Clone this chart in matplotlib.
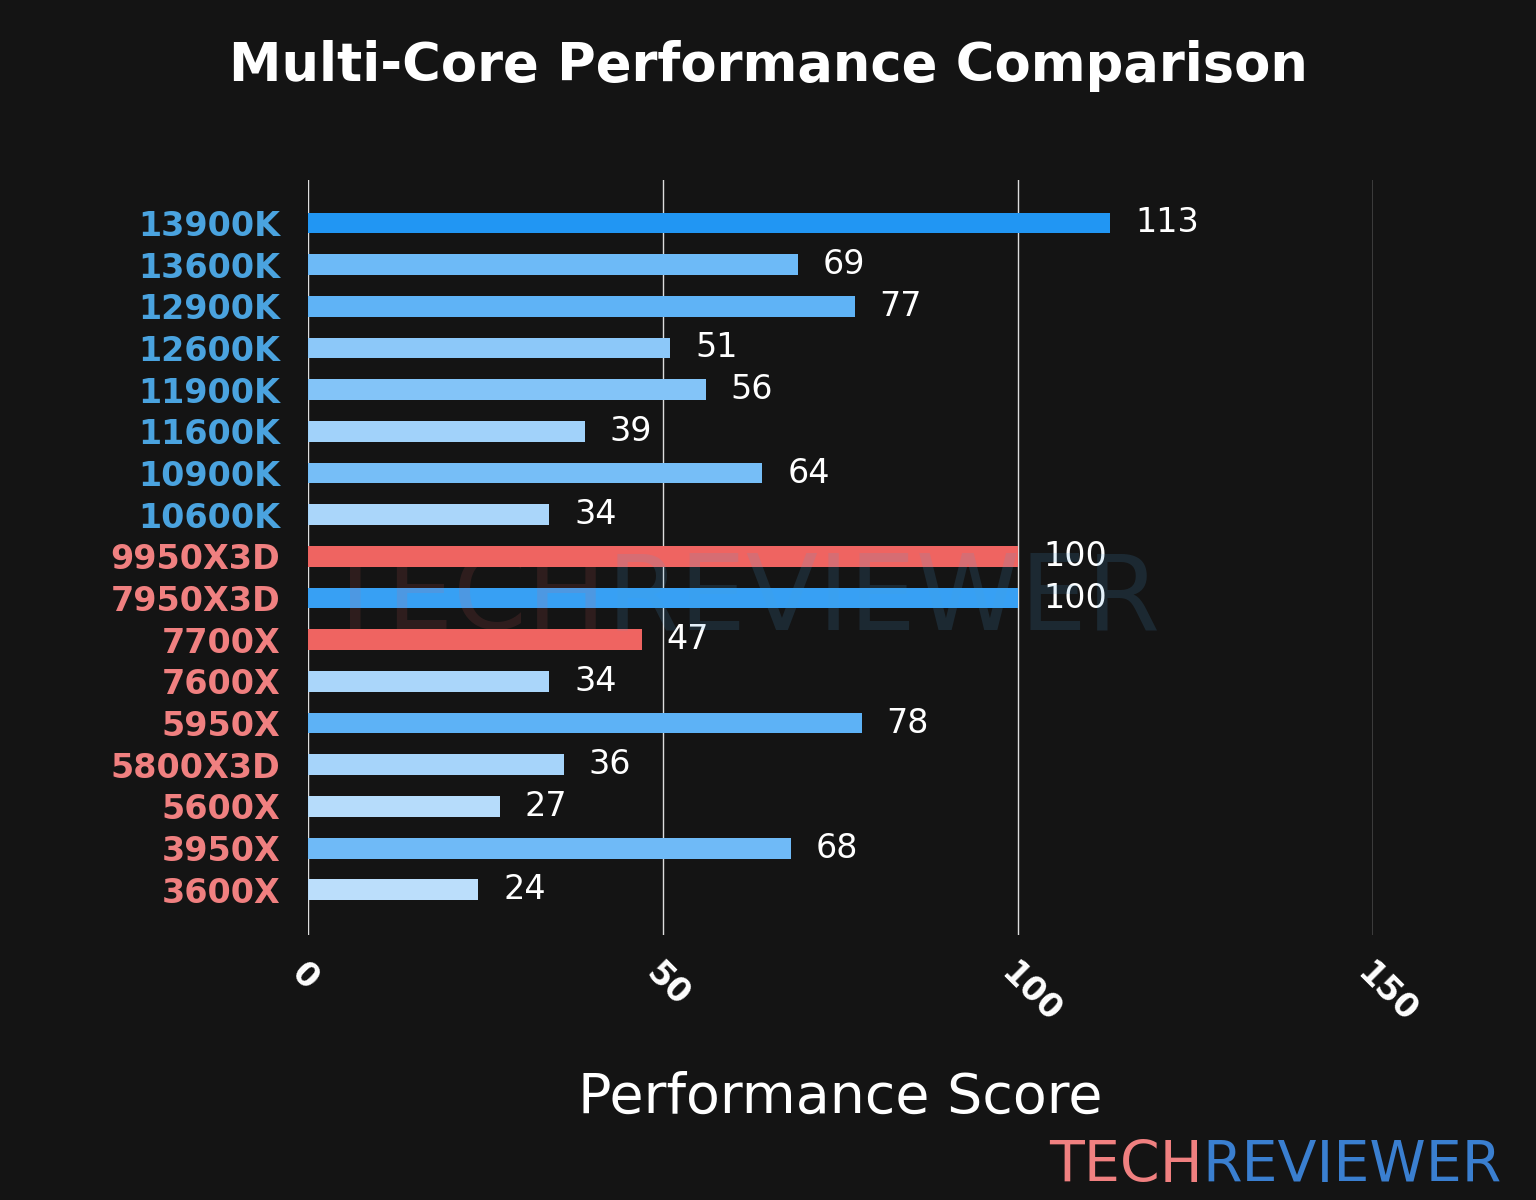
import matplotlib
matplotlib.use("Agg")
import matplotlib.pyplot as plt
from matplotlib.colors import LinearSegmentedColormap

cpus = ["13900K", "13600K", "12900K", "12600K", "11900K", "11600K", "10900K", "10600K",
        "9950X3D", "7950X3D", "7700X", "7600X", "5950X", "5800X3D", "5600X", "3950X", "3600X"]
scores = [113, 69, 77, 51, 56, 39, 64, 34, 100, 100, 47, 34, 78, 36, 27, 68, 24]
highlight = ["9950X3D", "7700X"]
intel = ["13900K", "13600K", "12900K", "12600K", "11900K", "11600K", "10900K", "10600K"]

bg = "#141414"
blue_cmap = LinearSegmentedColormap.from_list("b", ["#bbdefb", "#2196f3"])

fig = plt.figure(figsize=(15.36, 12), dpi=100, facecolor=bg)
ax = fig.add_axes([0.2005, 0.221, 0.6935, 0.629])
ax.set_facecolor(bg)

# watermark behind bars
fig.text(0.395, 0.5, "TECH", ha="right", va="center", fontsize=76, color="#ef6461", alpha=0.12)
fig.text(0.395, 0.5, "REVIEWER", ha="left", va="center", fontsize=76, color="#4aa3df", alpha=0.15)

lo, hi = min(scores), max(scores)
colors = []
for c, v in zip(cpus, scores):
    if c in highlight:
        colors.append("#ef6461")
    else:
        colors.append(blue_cmap((v - lo) / (hi - lo)))

y = list(range(len(cpus)))
ax.barh(y, scores, height=0.5, color=colors, zorder=2)
ax.set_ylim(len(cpus) - 1 + 1.08, -1.03)
ax.set_xlim(0, 150)
ax.set_xticks([0, 50, 100, 150])
ax.grid(axis="x", color="#dddddd", lw=1, zorder=0)
for s in ax.spines.values():
    s.set_visible(False)
ax.tick_params(length=0)

for yi, v in zip(y, scores):
    ax.text(v + 3.5, yi, str(v), va="center", ha="left", fontsize=24, color="white", zorder=3)

ax.set_yticks(y)
ax.set_yticklabels(cpus, fontsize=24, fontweight="bold")
for lab in ax.get_yticklabels():
    lab.set_color("#4aa3df" if lab.get_text() in intel else "#f08080")
ax.tick_params(axis="y", pad=20)
plt.setp(ax.get_xticklabels(), rotation=-45, ha="left", rotation_mode="anchor",
         fontsize=24, fontweight="bold", color="white")
ax.tick_params(axis="x", pad=16)

ax.set_xlabel("Performance Score", fontsize=40, color="white", labelpad=30)
fig.text(0.5, 0.945, "Multi-Core Performance Comparison", ha="center", va="center",
         fontsize=38, fontweight="bold", color="white")

fig.text(0.783, 0.028, "TECH", ha="right", va="center", fontsize=41, color="#f08080")
fig.text(0.783, 0.028, "REVIEWER", ha="left", va="center", fontsize=41, color="#3a7fd0")

fig.savefig("out.png", dpi=100, facecolor=bg)
